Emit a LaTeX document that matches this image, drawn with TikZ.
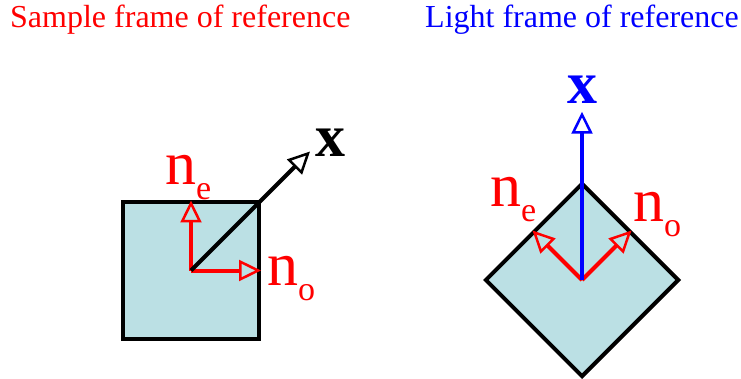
\documentclass[tikz,border=0pt]{standalone}
\usepackage{fontspec}
\setmainfont{Liberation Serif}
\definecolor{xtalfill}{RGB}{187,224,228}
\definecolor{axred}{RGB}{255,0,0}
\definecolor{axblue}{RGB}{0,0,255}
\usetikzlibrary{arrows.meta,calc}
\newcommand{\nidx}[1]{n\raisebox{-15pt}{\fontsize{34}{34}\selectfont #1}}

\begin{document}
\begin{tikzpicture}[x=1pt,y=-1pt,
  crystal/.style={draw,line width=4pt,fill=xtalfill,minimum size=136pt,inner sep=0pt},
  optax/.style={line width=4pt,-{Triangle[open,length=22pt,width=21pt,line width=2.5pt]}},
  title/.style={font=\fontsize{32}{32}\selectfont,anchor=base west,inner sep=0pt},
  lbl/.style={font=\fontsize{62}{62}\selectfont,anchor=base west,inner sep=0pt}]
  \useasboundingbox (0,0) rectangle (741,379);
  % Titles
  \node[title,axred] (t1) at (10,28) {Sample frame of reference};
  \node[title,axblue] (t2) at (425,28) {Light frame of reference};
  % Sample frame: square crystal
  \node[crystal] (sq1) at (191,270.5) {};
  \coordinate (x1) at ($(sq1.center)!1.7!(sq1.north east)$);
  \draw[optax,axred] (sq1.center) -- (sq1.north);
  \draw[optax,axred] (sq1.center) -- (sq1.east);
  \draw[optax,black] (sq1.center) -- (x1);
  \node[lbl,axred] (ne1) at (165,185) {\nidx{e}};
  \node[lbl,axred] (no1) at (267,285) {\nidx{o}};
  \node[lbl,font=\fontsize{60}{60}\selectfont\bfseries] (lx1) at (315,157) {x};
  % Light frame: rotated crystal
  \node[crystal,rotate=45] (sq2) at (582,280) {};
  \coordinate (x2) at ($(sq2.center)!1.7!(sq2.north east)$);
  \draw[optax,axred] (sq2.center) -- (sq2.north);
  \draw[optax,axred] (sq2.center) -- (sq2.east);
  \draw[optax,axblue] (sq2.center) -- (x2);
  \node[lbl,axred] (ne2) at (490,207) {\nidx{e}};
  \node[lbl,axred] (no2) at (633,222) {\nidx{o}};
  \node[lbl,axblue,font=\fontsize{60}{60}\selectfont\bfseries] (lx2) at (567,104) {x};
\end{tikzpicture}
\end{document}
